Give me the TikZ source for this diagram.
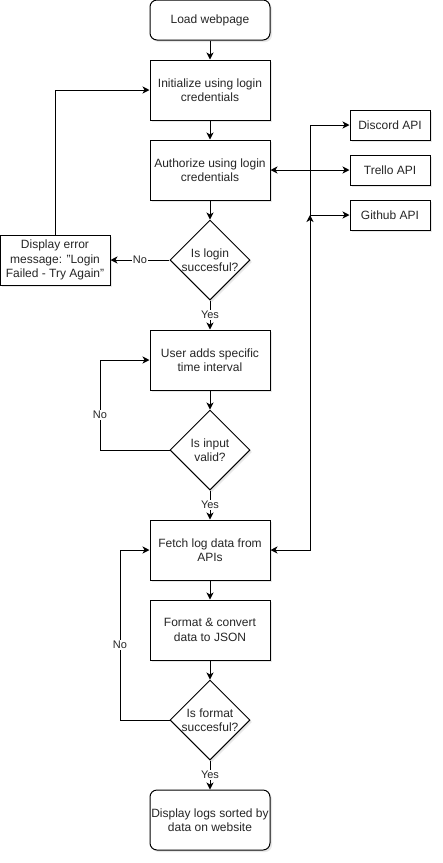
\documentclass[tikz,border=0pt]{standalone}
\usepackage{fontspec}
\setmainfont{Liberation Sans}
\usetikzlibrary{shapes.geometric,arrows.meta,shadows}
\begin{document}
\begin{tikzpicture}[x=1pt,y=-1pt,
  base/.style={draw=black,line width=1pt,fill=white,align=center,text=black!85,
    font=\fontsize{12}{14.5}\selectfont,inner sep=2pt,
    drop shadow={opacity=0.18,shadow xshift=2pt,shadow yshift=-2pt}},
  procbox/.style={base,rectangle,minimum width=120pt,minimum height=60pt},
  termbox/.style={base,rectangle,rounded corners=7pt,minimum width=120pt},
  apibox/.style={base,rectangle,minimum width=80pt,minimum height=30pt},
  decbox/.style={base,diamond,aspect=1,minimum width=80pt,minimum height=80pt,inner sep=0pt},
  arr/.style={line width=1pt,-{Stealth[length=7pt,width=7pt,inset=2pt]}},
  darr/.style={line width=1pt,{Stealth[length=7pt,width=7pt,inset=2pt]}-{Stealth[length=7pt,width=7pt,inset=2pt]}},
  lbl/.style={fill=white,inner sep=1pt,text=black!85,font=\fontsize{11}{13}\selectfont}
]
\useasboundingbox (0,0) rectangle (443,863);

\node[termbox,minimum height=40pt] (load) at (210,20) {Load webpage};
\node[procbox] (init) at (210,90) {Initialize using login\\credentials};
\node[procbox] (auth) at (210,170) {Authorize using login\\credentials};
\node[decbox,label={[align=center,font=\fontsize{12}{14.5}\selectfont,text=black!85]center:Is login\\succesful?}] (d1) at (210,260) {};
\node[base,rectangle,minimum width=110pt,minimum height=50pt,inner sep=0pt] (err) at (55,260) {Display error\\message: "Login\\Failed - Try Again"};
\node[apibox] (discord) at (390,125) {Discord API};
\node[apibox] (trello) at (390,170) {Trello API};
\node[apibox] (github) at (390,215) {Github API};
\node[procbox] (user) at (210,360) {User adds specific\\time interval};
\node[decbox,label={[align=center,font=\fontsize{12}{14.5}\selectfont,text=black!85]center:Is input\\valid?}] (d2) at (210,450) {};
\node[procbox] (fetch) at (210,550) {Fetch log data from\\APIs};
\node[procbox] (format) at (210,630) {Format \& convert\\data to JSON};
\node[decbox,label={[align=center,font=\fontsize{12}{14.5}\selectfont,text=black!85]center:Is format\\succesful?}] (d3) at (210,720) {};
\node[termbox,minimum height=60pt,inner sep=0pt] (disp) at (210,820) {Display logs sorted by\\data on website};

\coordinate (bus) at (310,550);
\coordinate (gj) at (310,215);

\draw[arr] (load) -- (init);
\draw[arr] (init) -- (auth);
\draw[arr] (auth) -- (d1);
\draw[arr] (d1) -- node[lbl]{Yes} (user);
\draw[arr] (d1) -- node[lbl]{No} (err);
\draw[arr] (err.north) |- (init.west);
\draw[arr] (user) -- (d2);
\draw[arr] (d2.west) -- (100,450) -- node[lbl,pos=0.39]{No} (100,360) -- (user.west);
\draw[arr] (d2) -- node[lbl]{Yes} (fetch);
\draw[arr] (fetch) -- (format);
\draw[arr] (format) -- (d3);
\draw[arr] (d3.west) -- (120,720) -- node[lbl,pos=0.44]{No} (120,550) -- (fetch.west);
\draw[arr] (d3) -- node[lbl]{Yes} (disp);

\draw[darr] (auth.east) -- (trello.west);
\draw[darr] (fetch.east) -- (bus) |- (discord.west);
\draw[arr] (bus) -- (gj);
\draw[arr] (gj) -- (github.west);
\end{tikzpicture}
\end{document}
